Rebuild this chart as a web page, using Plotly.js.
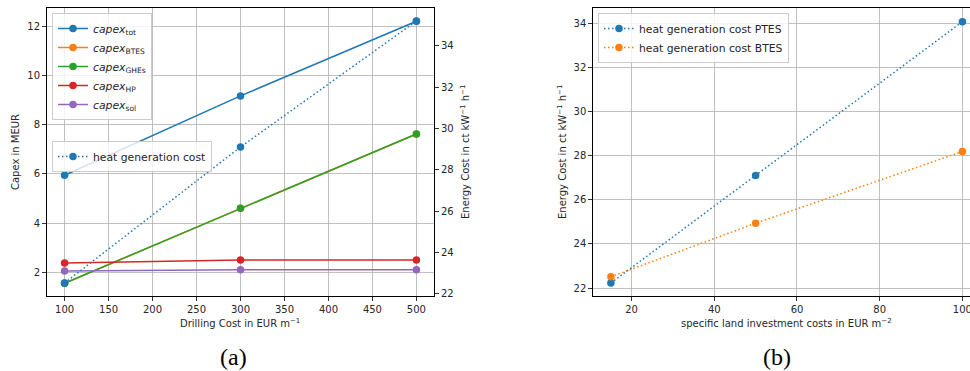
<!DOCTYPE html>
<html>
<head>
<meta charset="utf-8">
<script src="https://cdn.plot.ly/plotly-3.0.1.min.js"></script>
<style>
html,body{margin:0;padding:0;overflow:hidden;background:#fff;width:970px;height:371px;}
#chart{width:1000px;height:371px;}
</style>
</head>
<body>
<div id="chart"></div>
<script>
// ---- data (a) ----
const drillingCost = [100, 300, 500];
const capexTot  = [5.95, 9.18, 12.22];
const capexBTES = [1.55, 4.60, 7.63];
const capexGHEs = [1.55, 4.60, 7.63];
const capexHP   = [2.37, 2.50, 2.50];
const capexSol  = [2.05, 2.10, 2.10];
const heatGenCostA = [22.53, 29.10, 35.19];
const xTicksA = [100, 150, 200, 250, 300, 350, 400, 450, 500];

// ---- data (b) ----
const landCost = [15, 50, 100];
const heatCostPTES = [22.23, 27.10, 34.08];
const heatCostBTES = [22.51, 24.94, 28.19];
const xTicksB = [20, 40, 60, 80, 100];

const C = ['#1f77b4', '#ff7f0e', '#2ca02c', '#d62728', '#9467bd'];
const W = 1000, H = 371;
const fx = p => p / W;
const fy = p => (H - p) / H;
const TXT = '#262626';
const FONT = 'DejaVu Sans';

function capexTrace(y, name, color) {
  return {x: drillingCost, y: y, name: name, type: 'scatter', mode: 'lines+markers',
    xaxis: 'x', yaxis: 'y', legend: 'legend',
    line: {color: color, width: 1.5}, marker: {color: color, size: 7.5}};
}

const traces = [
  capexTrace(capexTot,  '<i>capex</i><sub>tot</sub>',  C[0]),
  capexTrace(capexBTES, '<i>capex</i><sub>BTES</sub>', C[1]),
  capexTrace(capexGHEs, '<i>capex</i><sub>GHEs</sub>', C[2]),
  capexTrace(capexHP,   '<i>capex</i><sub>HP</sub>',   C[3]),
  capexTrace(capexSol,  '<i>capex</i><sub>sol</sub>',  C[4]),
  {x: drillingCost, y: heatGenCostA, name: 'heat generation cost', type: 'scatter', mode: 'lines+markers',
   xaxis: 'x', yaxis: 'y2', legend: 'legend2',
   line: {color: C[0], width: 1.5, dash: '1.5px,2.5px'}, marker: {color: C[0], size: 7.5}},
  {x: landCost, y: heatCostPTES, name: 'heat generation cost PTES', type: 'scatter', mode: 'lines+markers',
   xaxis: 'x2', yaxis: 'y3', legend: 'legend3',
   line: {color: C[0], width: 1.5, dash: '1.5px,2.5px'}, marker: {color: C[0], size: 7.5}},
  {x: landCost, y: heatCostBTES, name: 'heat generation cost BTES', type: 'scatter', mode: 'lines+markers',
   xaxis: 'x2', yaxis: 'y3', legend: 'legend3',
   line: {color: C[1], width: 1.5, dash: '1.5px,2.5px'}, marker: {color: C[1], size: 7.5}}
];

const axBase = {
  showline: true, linecolor: '#000', linewidth: 1, mirror: true,
  ticks: 'outside', ticklen: 4, tickwidth: 0.8, tickcolor: '#000',
  tickfont: {family: FONT, size: 10, color: TXT},
  gridcolor: '#b0b0b0', gridwidth: 0.8, zeroline: false, automargin: false
};

const legBase = {
  bgcolor: 'rgba(255,255,255,0.8)', bordercolor: '#cccccc', borderwidth: 1,
  font: {family: FONT, size: 10.8, color: TXT}, xanchor: 'left', yanchor: 'top',
  itemwidth: 30, tracegroupgap: 0
};

function note(text, x, y, angle, font) {
  return {text: text, xref: 'paper', yref: 'paper', x: fx(x), y: fy(y), textangle: angle || 0,
    xanchor: 'center', yanchor: 'middle', showarrow: false,
    font: font || {family: FONT, size: 10, color: TXT}};
}

const layout = {
  width: W, height: H,
  margin: {l: 0, r: 0, t: 0, b: 0},
  paper_bgcolor: '#fff', plot_bgcolor: '#fff',
  font: {family: FONT, size: 10, color: TXT},
  xaxis: Object.assign({}, axBase, {domain: [fx(47), fx(434)], range: [80, 520], tickvals: xTicksA, anchor: 'y', showgrid: true}),
  yaxis: Object.assign({}, axBase, {domain: [fy(296), fy(8)], range: [1.03, 12.76], dtick: 2, tick0: 0, anchor: 'x', showgrid: true}),
  yaxis2: Object.assign({}, axBase, {overlaying: 'y', side: 'right', range: [21.9, 35.82], dtick: 2, tick0: 0, anchor: 'x', showgrid: false, mirror: false}),
  xaxis2: Object.assign({}, axBase, {domain: [fx(593.3), fx(980)], range: [10.75, 104.25], tickvals: xTicksB, anchor: 'y3', showgrid: true}),
  yaxis3: Object.assign({}, axBase, {domain: [fy(296), fy(8)], range: [21.64, 34.7], dtick: 2, tick0: 0, anchor: 'x2', showgrid: true}),
  legend: Object.assign({}, legBase, {x: fx(52), y: fy(13)}),
  legend2: Object.assign({}, legBase, {x: fx(52), y: fy(141)}),
  legend3: Object.assign({}, legBase, {x: fx(598), y: fy(13)}),
  showlegend: true,
  annotations: [
    note('Capex in MEUR', 15, 152, -90),
    note('Energy Cost in ct kW<sup>−1</sup> h<sup>−1</sup>', 465, 152, -90),
    note('Drilling Cost in EUR m<sup>−1</sup>', 240, 323),
    note('Energy Cost in ct kW<sup>−1</sup> h<sup>−1</sup>', 562, 152, -90),
    note('specific land investment costs in EUR m<sup>−2</sup>', 786, 323),
    note('(a)', 233, 357, 0, {family: 'Liberation Serif', size: 24, color: '#000'}),
    note('(b)', 777, 357, 0, {family: 'Liberation Serif', size: 24, color: '#000'})
  ]
};

Plotly.newPlot('chart', traces, layout, {displayModeBar: false, staticPlot: true});
</script>
</body>
</html>
